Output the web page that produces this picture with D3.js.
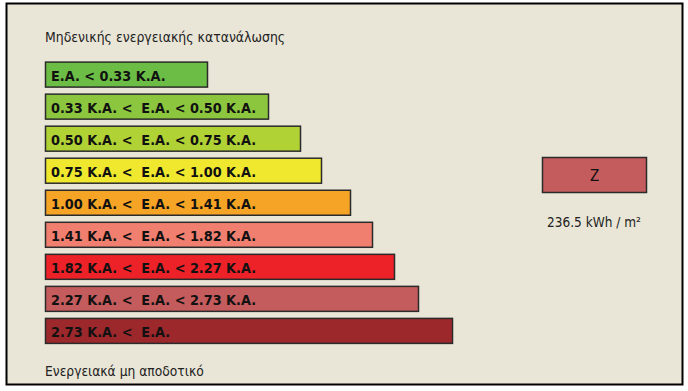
<!DOCTYPE html>
<html lang="el">
<head>
<meta charset="UTF-8">
<title></title>
<script src="https://d3js.org/d3.v7.min.js"></script>
<style>
body{
	margin:0;
	background:#fff;
}
text{
	font-family: 'DejaVu Sans Condensed', 'DejaVu Sans', sans-serif;
	font-stretch: condensed;
}
</style>
</head>
<body>
<svg id="chart" width="688" height="391"></svg>
<script>
// energy classes, top (best) to bottom (worst)
const labels = [
  'E.A. < 0.33 K.A.',
  '0.33 K.A. <  E.A. < 0.50 K.A.',
  '0.50 K.A. <  E.A. < 0.75 K.A.',
  '0.75 K.A. <  E.A. < 1.00 K.A.',
  '1.00 K.A. <  E.A. < 1.41 K.A.',
  '1.41 K.A. <  E.A. < 1.82 K.A.',
  '1.82 K.A. <  E.A. < 2.27 K.A.',
  '2.27 K.A. <  E.A. < 2.73 K.A.',
  '2.73 K.A. <  E.A.'
];
// bar lengths (relative units)
const lengths = [162, 223, 255, 276, 305, 327, 349, 373, 407];
const colors = ['#6cbd45', '#8cc63f', '#b1d235', '#efe82e', '#f5a425', '#f07f6f', '#ed2128', '#c45b5c', '#9d282c'];

const topLabel = 'Μηδενικής ενεργειακής κατανάλωσης';
const bottomLabel = 'Ενεργειακά μη αποδοτικό';
const currentClass = 'Z';
const currentColor = '#c45b5c';
const currentValue = '236.5 kWh / m²';

const svg = d3.select('#chart');

// panel
svg.append('rect')
  .attr('x', 6.5).attr('y', 3.5)
  .attr('width', 676).attr('height', 381)
  .attr('fill', '#e9e6d7')
  .attr('stroke', '#000')
  .attr('stroke-width', 2);

const x = d3.scaleLinear().domain([0, 407]).range([0, 407]);
const y = d3.scaleBand().domain(d3.range(labels.length)).range([60.5, 345]).paddingInner(0.22).paddingOuter(0.05);

svg.append('text')
  .attr('x', 45).attr('y', 41.5)
  .attr('font-size', 13.9)
  .attr('fill', '#222')
  .text(topLabel);

svg.append('text')
  .attr('x', 45).attr('y', 375.5)
  .attr('font-size', 13.7)
  .attr('fill', '#222')
  .text(bottomLabel);

const bars = svg.selectAll('.bar')
  .data(labels)
  .enter().append('g')
  .attr('class', 'bar')
  .attr('transform', (d, i) => `translate(45.5,${y(i)})`);

bars.append('rect')
  .attr('width', (d, i) => x(lengths[i]))
  .attr('height', y.bandwidth())
  .attr('fill', (d, i) => colors[i])
  .attr('stroke', '#2b2b2b')
  .attr('stroke-width', 1.5);

bars.append('text')
  .attr('x', 5.5)
  .attr('y', y.bandwidth() / 2 + 6)
  .attr('font-size', 14.3)
  .attr('font-weight', 'bold')
  .attr('fill', '#111')
  .style('white-space', 'pre')
  .text(d => d);

// current rating box
svg.append('rect')
  .attr('x', 542.5).attr('y', 157.5)
  .attr('width', 104).attr('height', 35)
  .attr('fill', currentColor)
  .attr('stroke', '#2b2b2b')
  .attr('stroke-width', 1.5);

svg.append('text')
  .attr('x', 594.5).attr('y', 181)
  .attr('text-anchor', 'middle')
  .attr('font-size', 15)
  .attr('fill', '#111')
  .text(currentClass);

svg.append('text')
  .attr('x', 594).attr('y', 227)
  .attr('text-anchor', 'middle')
  .attr('font-size', 13.5)
  .attr('fill', '#222')
  .text(currentValue);
</script>
</body>
</html>
